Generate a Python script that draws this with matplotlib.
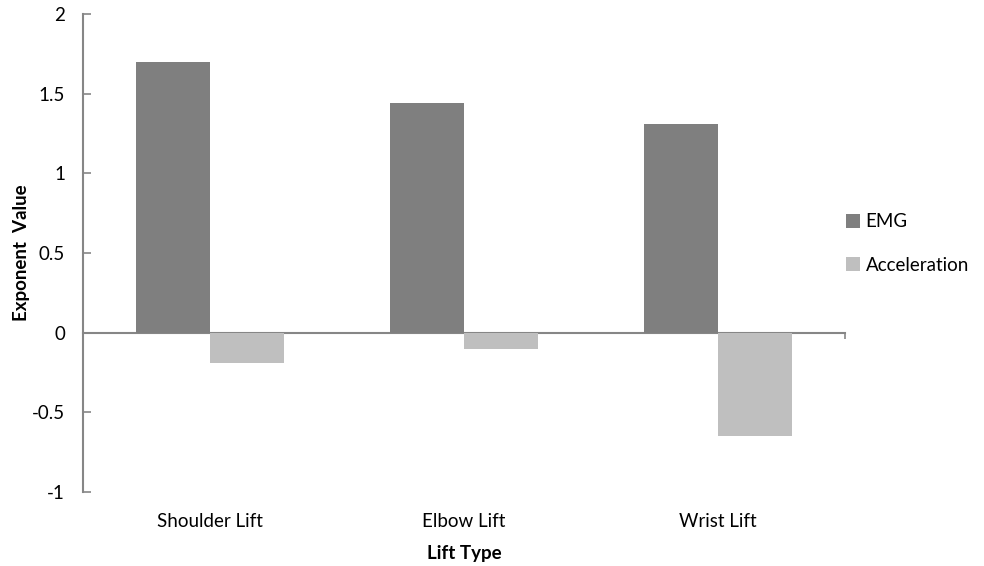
import matplotlib
matplotlib.use("Agg")
import matplotlib.pyplot as plt
import numpy as np

categories = ["Shoulder Lift", "Elbow Lift", "Wrist Lift"]
emg = [1.70, 1.44, 1.31]
acceleration = [-0.19, -0.10, -0.65]
yticks = [-1, -0.5, 0, 0.5, 1, 1.5, 2]
ytick_labels = ["-1", "-0.5", "0", "0.5", "1", "1.5", "2"]

plt.rcParams['font.family'] = ['Lato', 'DejaVu Sans']

fig = plt.figure(figsize=(9.84, 5.66), dpi=100)
ax = fig.add_axes([83/984, 1 - 492/566, (845 - 83)/984, (492 - 14)/566])

x = np.arange(len(categories))
w = 0.29
ax.bar(x - w/2, emg, w, color="#7f7f7f", label="EMG", zorder=2)
ax.bar(x + w/2, acceleration, w, color="#bfbfbf", label="Acceleration", zorder=2)

ax.set_xlim(-0.5, 2.5)
ax.set_ylim(-1, 2)
ax.set_yticks(yticks)
ax.set_yticklabels(ytick_labels, fontsize=13.5)
ax.tick_params(axis='y', direction='in', length=6, width=1.2, color="#868686", pad=13)

for s in ["top", "right", "bottom"]:
    ax.spines[s].set_visible(False)
ax.spines["left"].set_color("#868686")
ax.spines["left"].set_linewidth(1.5)

ax.set_xticks(x)
ax.set_xticklabels(categories, fontsize=13.5)
ax.tick_params(axis='x', length=0, pad=15)

sec = ax.secondary_xaxis(1/3)
sec.set_xticks([-0.5, 2.5])
sec.set_xticklabels(["", ""])
sec.tick_params(axis='x', direction='out', length=4, width=1.2, color="#868686")
sec.spines["bottom"].set_color("#868686")
sec.spines["bottom"].set_linewidth(1.5)
sec.spines["bottom"].set_zorder(3)

ax.set_xlabel("Lift Type", fontsize=13.5, fontweight="bold", labelpad=11)
ax.set_ylabel("Exponent  Value", fontsize=13.5, fontweight="bold", labelpad=1)

leg = ax.legend(loc="center left", bbox_to_anchor=(0.979, 0.52), frameon=False,
                fontsize=13.5, handlelength=0.75, handleheight=0.75, handletextpad=0.3,
                labelspacing=1.4)

fig.savefig("out.png", dpi=100)
